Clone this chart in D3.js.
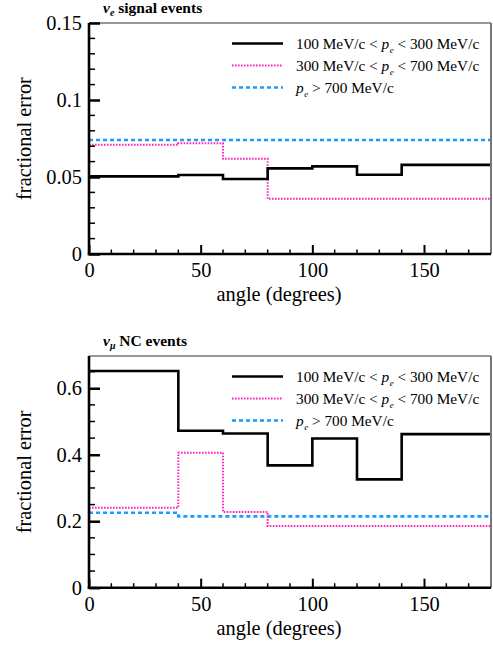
<!DOCTYPE html>
<html><head><meta charset="utf-8">
<script src="https://cdn.jsdelivr.net/npm/d3@7"></script>
<style>
html,body{margin:0;padding:0;background:#fff;}
svg text{fill:#000;}
</style></head>
<body><svg id="c" width="493" height="645"></svg>
<script>
// ---- data ----
const binEdges = [0, 20, 40, 60, 80, 100, 120, 140, 160, 180];
const xTicks = [0, 50, 100, 150];
const legendLabels = ["100 MeV/c < p_e < 300 MeV/c", "300 MeV/c < p_e < 700 MeV/c", "p_e > 700 MeV/c"];
const seriesColors = ["#000000", "#ff22bb", "#1a9cff"];

const sigLow  = [0.0504, 0.0504, 0.0513, 0.0487, 0.0556, 0.0569, 0.0515, 0.0579, 0.0579];
const sigMid  = [0.0710, 0.0710, 0.0719, 0.0618, 0.0358, 0.0358, 0.0358, 0.0358, 0.0358];
const sigHigh = [0.0740, 0.0740, 0.0740, 0.0740, 0.0740, 0.0740, 0.0740, 0.0740, 0.0740];
const sigYTicks = [0, 0.05, 0.1, 0.15];
const sigYTickLabels = ["0", "0.05", "0.1", "0.15"];

const ncLow  = [0.652, 0.652, 0.472, 0.464, 0.368, 0.449, 0.326, 0.462, 0.462];
const ncMid  = [0.2406, 0.2406, 0.406, 0.2277, 0.1856, 0.1856, 0.1856, 0.1856, 0.1856];
const ncHigh = [0.2256, 0.2256, 0.2147, 0.2147, 0.2147, 0.2147, 0.2147, 0.2147, 0.2147];
const ncYTicks = [0, 0.2, 0.4, 0.6];
const ncYTickLabels = ["0", "0.2", "0.4", "0.6"];

// ---- drawing ----
const FONT = '"Liberation Serif", "Times New Roman", serif';
const BIG = 20.4;
const svg = d3.select("#c");
const L = 89, R = 491;
const x = d3.scaleLinear().domain([0, 180]).range([L, R]);

function panel(cfg) {
  const y = d3.scaleLinear().domain([0, cfg.ymax]).range([cfg.bottom, cfg.top]);
  const g = svg.append("g").attr("font-family", FONT);
  const clipId = "clip" + cfg.id;
  svg.append("clipPath").attr("id", clipId).append("rect")
    .attr("x", L).attr("y", cfg.top).attr("width", R - L).attr("height", cfg.bottom - cfg.top);

  // histograms
  const styles = [
    {w: 2.6, dash: null},
    {w: 2.0, dash: "1.6,1.4"},
    {w: 2.6, dash: "4,3"}
  ];
  const line = d3.line().x(d => x(d[0])).y(d => y(d[1])).curve(d3.curveStepAfter);
  const drawOrder = [2, 1, 0];
  drawOrder.forEach(i => {
    const vals = cfg.series[i];
    const pts = vals.map((v, k) => [binEdges[k], v]);
    pts.push([binEdges[binEdges.length - 1], vals[vals.length - 1]]);
    g.append("path").attr("d", line(pts)).attr("fill", "none")
      .attr("stroke", seriesColors[i]).attr("stroke-width", styles[i].w)
      .attr("stroke-dasharray", styles[i].dash)
      .attr("clip-path", `url(#${clipId})`);
  });

  // frame top & right
  g.append("line").attr("x1", L).attr("x2", R).attr("y1", cfg.top).attr("y2", cfg.top)
    .attr("stroke", "#777").attr("stroke-width", 1.5);
  g.append("line").attr("x1", R).attr("x2", R).attr("y1", cfg.top).attr("y2", cfg.bottom)
    .attr("stroke", "#777").attr("stroke-width", 2);

  // y axis
  const yAxis = d3.axisRight(y).tickValues(cfg.yTicks).tickSize(11)
    .tickFormat((d, i) => cfg.yLabels[i]);
  const ya = g.append("g").attr("transform", `translate(${L},0)`).call(yAxis)
    .attr("font-family", FONT);
  ya.select(".domain").remove();
  ya.selectAll(".tick line").attr("stroke", "#000").attr("stroke-width", 2.5);
  ya.selectAll(".tick text").attr("x", -7).attr("text-anchor", "end")
    .attr("font-size", BIG).attr("dy", "0.33em").attr("font-family", FONT);
  const yMinor = d3.range(0, cfg.ymax + 1e-9, cfg.yMinorStep).map(v => +v.toFixed(4))
    .filter(v => !cfg.yTicks.some(t => Math.abs(t - v) < 1e-6));
  g.selectAll(null).data(yMinor).enter().append("line")
    .attr("x1", L).attr("x2", L + 6).attr("y1", d => y(d)).attr("y2", d => y(d))
    .attr("stroke", "#000").attr("stroke-width", 1.5);

  // x axis
  const xAxis = d3.axisTop(x).tickValues(xTicks).tickSize(9).tickFormat(d3.format("d"));
  const xa = g.append("g").attr("transform", `translate(0,${cfg.bottom})`).call(xAxis)
    .attr("font-family", FONT);
  xa.select(".domain").remove();
  xa.selectAll(".tick line").attr("stroke", "#000").attr("stroke-width", 2);
  xa.selectAll(".tick text").attr("y", 23).attr("dy", 0).attr("font-size", BIG).attr("font-family", FONT);
  const xMinor = d3.range(10, 180, 10).filter(v => v % 50 !== 0);
  g.selectAll(null).data(xMinor).enter().append("line")
    .attr("x1", d => x(d)).attr("x2", d => x(d)).attr("y1", cfg.bottom).attr("y2", cfg.bottom - 4.5)
    .attr("stroke", "#000").attr("stroke-width", 1.5);

  // axis lines
  g.append("line").attr("x1", L).attr("x2", L).attr("y1", cfg.top).attr("y2", cfg.bottom + 1.2)
    .attr("stroke", "#000").attr("stroke-width", 2.6);
  g.append("line").attr("x1", L - 1.2).attr("x2", R).attr("y1", cfg.bottom).attr("y2", cfg.bottom)
    .attr("stroke", "#000").attr("stroke-width", 2.6);

  // axis titles
  g.append("text").attr("x", x(90) - 11).attr("y", cfg.bottom + 47).attr("text-anchor", "middle")
    .attr("font-size", BIG).text("angle (degrees)");
  g.append("text").attr("transform", `translate(31,${(cfg.top + cfg.bottom) / 2}) rotate(-90)`)
    .attr("text-anchor", "middle").attr("font-size", BIG).text("fractional error");

  // panel title
  const t = g.append("text").attr("x", 103).attr("y", cfg.top - 10)
    .attr("font-size", 15.5).attr("font-weight", "bold");
  t.append("tspan").attr("font-style", "italic").text("ν");
  t.append("tspan").attr("font-style", "italic").attr("font-size", 10).attr("dy", 3).text(cfg.sub);
  t.append("tspan").attr("dy", -3).text(cfg.titleRest);

  // legend
  const rowY = [20.5, 42.5, 64.5];
  legendLabels.forEach((lab, i) => {
    const yy = cfg.top + rowY[i];
    g.append("line").attr("x1", 232).attr("x2", 283).attr("y1", yy).attr("y2", yy)
      .attr("stroke", seriesColors[i]).attr("stroke-width", styles[i].w)
      .attr("stroke-dasharray", styles[i].dash);
    const txt = g.append("text").attr("x", 296).attr("y", yy + 5).attr("font-size", 15.3);
    const parts = lab.split("p_e");
    if (parts[0]) txt.append("tspan").text(parts[0]);
    txt.append("tspan").attr("font-style", "italic").text("p");
    txt.append("tspan").attr("font-style", "italic").attr("font-size", 9).attr("dy", 4).attr("dx", 0.5).text("e");
    txt.append("tspan").attr("dy", -4).text(parts[1]);
  });
}

panel({id: 1, top: 23, bottom: 254, ymax: 0.15, yTicks: sigYTicks, yLabels: sigYTickLabels,
  yMinorStep: 0.01, series: [sigLow, sigMid, sigHigh], sub: "e", titleRest: " signal events"});
panel({id: 2, top: 356, bottom: 587.7, ymax: 0.697, yTicks: ncYTicks, yLabels: ncYTickLabels,
  yMinorStep: 0.05, series: [ncLow, ncMid, ncHigh], sub: "μ", titleRest: " NC events"});
</script>
</body></html>
